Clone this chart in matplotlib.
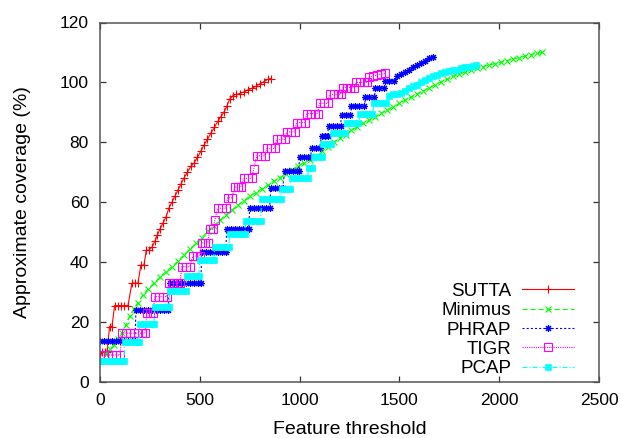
import matplotlib
matplotlib.use("Agg")
import matplotlib.pyplot as plt

plt.rcParams['font.family'] = ['Liberation Sans', 'DejaVu Sans']
plt.rcParams['lines.scale_dashes'] = False

# ---------------- data ----------------
sutta_x = [0, 10, 25, 35, 48, 60, 73, 90, 105, 120, 140, 160, 175, 190, 205, 220, 232, 245, 260,
           275, 287, 300, 315, 330, 345, 360, 375, 390, 405, 420, 438, 455, 470, 488, 505, 520,
           538, 555, 573, 590, 605, 620, 635, 650, 665, 680, 700, 720, 740, 760, 780, 800, 820,
           840, 855]
sutta_y = [8, 10, 10, 10, 18.5, 18.5, 25.5, 25.5, 25.5, 25.5, 25.5, 33, 33, 33, 39, 39, 44, 44,
           45, 47, 49, 51, 53, 55, 58, 60, 62, 64, 66, 68, 70, 72, 73, 75, 77, 79, 81, 83, 85, 87,
           88.5, 90, 92, 94.5, 95.5, 96, 96.3, 96.8, 97.5, 98, 98.7, 99.5, 100.2, 101, 101.3]

minimus_x = [30, 50, 70, 90, 110, 130, 150, 170, 190, 215, 240, 270, 300, 330, 360, 390, 420,
             450, 480, 510, 540, 570, 600, 630, 660, 690, 720, 750, 780, 810, 840, 870, 900,
             930, 960, 990, 1020, 1050, 1080, 1110, 1140, 1170, 1200, 1230, 1260, 1290, 1320,
             1350, 1380, 1410, 1440, 1470, 1500, 1530, 1560, 1590, 1620, 1650, 1680, 1710,
             1740, 1770, 1800, 1830, 1860, 1890, 1920, 1950, 1980, 2010, 2040, 2070, 2100,
             2130, 2160, 2190, 2215]
minimus_y = [9.5, 11, 12.5, 14.5, 16.5, 19, 22, 24.5, 26.5, 29, 31, 33, 35, 36.8, 38.5, 40.3,
             42.3, 44.3, 46.3, 48.2, 50.3, 52.2, 54, 55.8, 57.3, 59, 60.5, 62, 63.2, 64.5, 65.7,
             67, 68.2, 69.5, 70.8, 72, 73, 74.2, 75.5, 77, 78.5, 80, 81.3, 82.6, 84, 85.2, 86.3,
             87.5, 88.6, 89.7, 90.8, 91.9, 93, 94.1, 95.2, 96.2, 97.2, 98.2, 99.2, 100.2, 101.1,
             102, 102.8, 103.5, 104.2, 104.8, 105.3, 105.8, 106.3, 106.8, 107.3, 107.8, 108.3,
             108.8, 109.3, 109.7, 110]

phrap_x = [0, 20, 40, 60, 80, 100, 120, 140, 160, 175,
           180, 200, 220, 240, 260, 280, 300, 320, 340,
           350, 370, 390, 410, 430, 450, 470, 490, 505,
           510, 530, 550, 570, 590, 610, 630,
           635, 655, 675, 695, 715, 735, 745,
           750, 770, 790, 810, 830, 850,
           855, 875, 895, 915,
           925, 945, 965, 985, 995,
           1000, 1020, 1040, 1055,
           1060, 1080, 1100,
           1110, 1125, 1140,
           1145, 1165, 1185, 1205,
           1210, 1230, 1255,
           1260, 1280, 1300, 1325,
           1330, 1350, 1375,
           1380, 1400, 1425,
           1430, 1450, 1475,
           1490, 1510, 1530, 1550, 1570, 1590, 1610, 1630, 1650, 1670]
phrap_y = [13.7] * 10 + [24] * 9 + [33] * 9 + [43.5] * 7 + [51] * 7 + [58] * 6 + [64.6] * 4 + \
          [70.4] * 5 + [75] * 4 + [78] * 3 + [82] * 3 + [85.6] * 4 + [89] * 3 + [92] * 4 + \
          [95] * 3 + [98.3] * 3 + [100.6] * 3 + \
          [102, 102.8, 103.5, 104.2, 105, 105.8, 106.5, 107.2, 108, 108.6]

tigr_x = [0, 20, 40, 60, 80, 100,
          110, 130, 150, 170, 190, 210, 225,
          235, 250, 265,
          275, 295, 315, 335,
          345, 365, 385, 400,
          410, 430, 450,
          465, 485, 500,
          510, 525, 540,
          550, 565,
          575,
          590, 610, 630,
          640, 660,
          675, 690, 705,
          720, 740, 760,
          770,
          785, 805, 825,
          835, 855, 875,
          885, 905, 925,
          935, 955, 975,
          985, 1005, 1025,
          1035, 1055, 1075, 1090,
          1100, 1120, 1140,
          1150, 1170, 1190, 1205,
          1215, 1235, 1255, 1275,
          1285, 1305, 1325, 1340,
          1350, 1370, 1390, 1410, 1430]
tigr_y = [9] * 6 + [16.3] * 7 + [23] * 3 + [28.5] * 4 + [33] * 4 + [38.5] * 3 + [42] * 3 + \
         [46.5] * 3 + [51] * 2 + [54] + [58] * 3 + [61.5] * 2 + [65] * 3 + [68] * 3 + [71] + \
         [75.5] * 3 + [78] * 3 + [81] * 3 + [83.5] * 3 + [86.6] * 3 + [89.6] * 4 + [93] * 3 + \
         [96] * 4 + [98.3] * 4 + [100] * 4 + [101.8, 102.2, 102.5, 102.8, 103]

pcap_x = [0, 20, 40, 60, 80, 100, 120,
          125, 145, 165, 185, 195,
          200, 220, 240, 260, 270,
          275, 295, 315, 335, 345,
          350, 370, 390, 410, 430,
          435, 455, 475, 495,
          500, 520, 540, 560, 570,
          575, 595, 615, 635, 645,
          650, 670, 690, 710, 725,
          730, 750, 770, 790, 805,
          810, 830, 850, 870, 890, 905,
          910, 930, 950,
          960, 980, 1000, 1020, 1040,
          1045, 1060,
          1070, 1090, 1110,
          1115, 1135, 1155,
          1165, 1185, 1205, 1225,
          1235, 1255, 1275, 1295,
          1305, 1325, 1345, 1365,
          1375, 1395, 1415, 1435,
          1450, 1470, 1490, 1510, 1530, 1550, 1570, 1590, 1610, 1630, 1650, 1670, 1690,
          1710, 1730, 1750, 1770, 1790, 1810, 1830, 1850, 1870, 1885]
pcap_y = [7] * 7 + [13.5] * 5 + [19.5] * 5 + [25] * 5 + [30.5] * 5 + [35.5] * 4 + \
         [40.8] * 5 + [45] * 5 + [49.3] * 5 + [53.7] * 5 + [61.2] * 6 + [64.5] * 3 + \
         [68] * 5 + [71.5] * 2 + [75] * 3 + [79.5] * 3 + [83] * 4 + [86.6] * 4 + [89.6] * 4 + \
         [93] * 4 + \
         [95.5, 96, 96.3, 96.5, 97.3, 98, 98.8, 99.3, 100, 100.8, 101.5, 102, 102.5,
          103, 103.4, 103.7, 104, 104.3, 104.7, 105, 105.3, 105.5, 105.7]

series_names = ["SUTTA", "Minimus", "PHRAP", "TIGR", "PCAP"]
x_ticks = [0, 500, 1000, 1500, 2000, 2500]
y_ticks = [0, 20, 40, 60, 80, 100, 120]

# ---------------- figure ----------------
fig = plt.figure(figsize=(6.23, 4.38), dpi=100)
ax = fig.add_axes([100 / 623, 1 - 382 / 438, 499 / 623, 359.5 / 438])

lw = 0.8
ax.plot(sutta_x, sutta_y, color='#ff0000', lw=lw, linestyle='-', marker='+',
        markersize=6, markeredgewidth=0.8, label=series_names[0])
ax.plot(minimus_x, minimus_y, color='#00ff00', lw=lw, linestyle=(0, (3.6, 2.2)), marker='x',
        markersize=4.5, markeredgewidth=0.8, label=series_names[1])
ax.plot(phrap_x, phrap_y, color='#0000ff', lw=lw, linestyle=(0, (1.5, 1.5)), marker=(8, 2, 0),
        markersize=5, markeredgewidth=0.8, label=series_names[2])
ax.plot(tigr_x, tigr_y, color='#ff00ff', lw=lw, linestyle=(0, (0.8, 0.8)), marker='s',
        markersize=5.8, markeredgewidth=0.8, markerfacecolor='none', label=series_names[3])
ax.plot(pcap_x, pcap_y, color='#00ffff', lw=lw, linestyle=(0, (3.6, 1.4, 0.8, 1.4)),
        marker='s', markersize=5, markeredgewidth=0.5, label=series_names[4])

ax.set_xlim(0, 2500)
ax.set_ylim(0, 120)
ax.set_xticks(x_ticks)
ax.set_yticks(y_ticks)
ax.tick_params(direction='in', length=4, width=0.9, top=True, right=True,
               labelsize=12.5, pad=8, color='#333333')
for s in ax.spines.values():
    s.set_color('#555555')
    s.set_linewidth(1.1)

ax.set_xlabel("Feature threshold", fontsize=14, labelpad=9.5)
ax.set_ylabel("Approximate coverage (%)", fontsize=14, labelpad=21)

leg = ax.legend(loc='lower right', bbox_to_anchor=(0.95, 0.013), frameon=False,
                markerfirst=False, fontsize=13.5, handlelength=2.8, handletextpad=0.55,
                labelspacing=0.12, borderpad=0, borderaxespad=0)

fig.savefig("out.png", dpi=100)
